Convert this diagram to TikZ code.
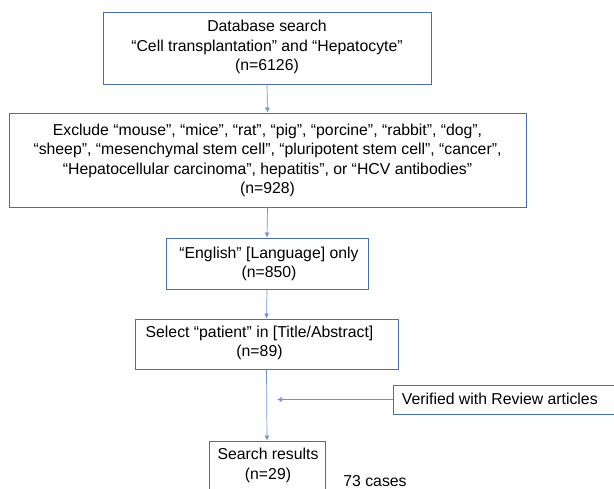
\documentclass[tikz,border=0pt]{standalone}
\usepackage{fontspec}
\setmainfont{Liberation Sans}
\usetikzlibrary{arrows.meta}
\definecolor{boxblue}{HTML}{4A6CB0}
\definecolor{lineblue}{HTML}{6F93D3}
\tikzset{
  box/.style={draw=boxblue, line width=0.9pt, fill=white, inner sep=0pt},
  txt/.style={align=center, inner sep=0pt, font=\fontsize{15.8}{19.5}\selectfont},
  conn/.style={draw=lineblue, line width=0.7pt, -{Latex[length=5pt,width=5pt]}},
}
\begin{document}
\begin{tikzpicture}[x=1pt,y=-1pt]
\useasboundingbox (0,0) rectangle (614,489);
\clip (0,0) rectangle (614,489);
% boxes
\node[box, minimum width=328pt, minimum height=72pt] (b1) at (267,48) {};
\node[txt] (t1) at (267,47) {Database search\\“Cell transplantation” and “Hepatocyte”\\(n=6126)};
\node[box, minimum width=517pt, minimum height=94pt] (b2) at (267.5,160) {};
\node[txt] (t2) at (267.5,160.5) {Exclude “mouse”, “mice”, “rat”, “pig”, “porcine”, “rabbit”, “dog”,\\“sheep”, “mesenchymal stem cell”, “pluripotent stem cell”, “cancer”,\\“Hepatocellular carcinoma”, hepatitis”, or “HCV antibodies”\\(n=928)};
\node[box, minimum width=202pt, minimum height=51pt] (b3) at (267,263.5) {};
\node[txt] (t3) at (269,264) {“English” [Language] only\\(n=850)};
\node[box, minimum width=263pt, minimum height=50pt] (b4) at (266.5,344) {};
\node[txt] (t4) at (259.5,343) {Select “patient” in [Title/Abstract]\\(n=89)};
\node[box, minimum width=230pt, minimum height=29pt] (bv) at (508,399.5) {};
\node[txt, anchor=west] (tv) at (401.7,399) {Verified with Review articles};
\node[box, minimum width=116pt, minimum height=70pt] (b5) at (267,476) {};
\node[txt] (t5) at (268,465.5) {Search results\\(n=29)};
\node[txt] (t6) at (375,481) {73 cases};
\coordinate (vend) at (277,399.5);
% connectors
\draw[conn] (b1.south) -- (b2.north);
\draw[conn] (b2.south) -- (b3.north);
\draw[conn] (b3.south) -- (b4.north);
\draw[conn] (b4.south) -- (b5.north);
\draw[conn] (bv.west) -- (vend);
\end{tikzpicture}
\end{document}
